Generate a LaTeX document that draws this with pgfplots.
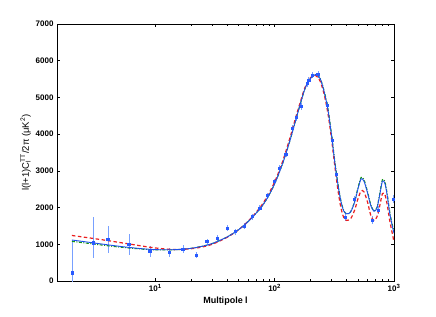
\documentclass[border=0pt]{standalone}
\usepackage{pgfplots}
\pgfplotsset{compat=1.18}
\usepackage{pgfplotstable}
\usepackage{fontspec}
\setmainfont{Liberation Sans}
\definecolor{cblue}{RGB}{30,80,235}
\definecolor{cpts}{RGB}{40,90,255}
\definecolor{cerr}{RGB}{120,160,255}
\definecolor{cgreen}{RGB}{20,150,20}
\definecolor{cred}{RGB}{235,30,30}

\pgfplotstableread{
l D ep em
2 226 900 300
3 1043 700 430
4 1136 350 380
6 1000 280 280
9 809 150 150
13 782 130 130
17 872 100 100
22 708 90 90
27 1071 80 80
33 1163 80 80
40 1436 80 80
47 1343 80 80
56 1499 80 80
65 1752 80 80
75 1981 80 80
87 2324 80 80
100 2706 80 80
110 3071 80 80
124 3452 80 80
140 4160 90 90
152 4460 90 90
167 4749 90 90
187 5387 90 90
193 5477 90 90
208 5613 90 90
230 5632 90 90
278 4796 90 90
303 3842 90 90
330 2915 90 90
388 1735 90 90
464 2234 90 90
660 1662 100 100
741 1935 100 100
990 2234 100 100
}\datapts

\pgfplotstableread{
l B G R
2 1117 1080 1240
3 1040 1010 1160
4 985 960 1100
5 945 925 1050
6 915 900 1010
8 875 865 945
10 855 850 900
13 850 848 865
16 860 860 860
20 890 890 880
25 950 950 930
30 1020 1020 1000
40 1200 1200 1190
50 1400 1400 1400
60 1620 1620 1630
70 1850 1850 1870
80 2080 2080 2120
90 2350 2350 2400
100 2650 2650 2700
110 2980 2980 3030
120 3320 3320 3380
135 3850 3850 3920
150 4380 4380 4450
165 4850 4850 4900
180 5250 5250 5280
200 5520 5520 5540
220 5620 5620 5600
240 5520 5530 5450
260 5150 5170 5080
280 4650 4680 4550
300 3950 3980 3850
320 3200 3230 3100
340 2600 2620 2450
360 2150 2170 1980
380 1900 1910 1720
400 1830 1830 1650
420 1840 1840 1660
440 1920 1930 1730
470 2170 2190 1950
500 2520 2550 2250
530 2780 2820 2450
560 2720 2760 2430
600 2400 2430 2150
640 2050 2070 1780
680 1900 1910 1650
720 1990 2000 1750
760 2350 2380 2050
800 2720 2760 2380
840 2650 2700 2350
880 2300 2340 2050
920 1850 1890 1650
960 1550 1580 1350
1000 1300 1350 1070
}\theory

\begin{document}
\begin{tikzpicture}
\begin{axis}[
  scale only axis,
  width=337pt, height=257pt,
  xmode=log,
  xmin=1.5, xmax=1000,
  ymin=0, ymax=7000,
  ytick={0,1000,2000,3000,4000,5000,6000,7000},
  xtick={10,100,1000},
  xticklabels={\textbf{10\textsuperscript{1}},\textbf{10\textsuperscript{2}},\textbf{10\textsuperscript{3}}},
  scaled y ticks=false,
  yticklabel style={/pgf/number format/assume math mode=true, font=\fontsize{8}{9}\selectfont\bfseries},
  xticklabel style={font=\fontsize{8}{9}\selectfont},
  /pgf/number format/1000 sep={},
  tick align=inside,
  major tick length=3.5pt,
  minor tick length=2pt,
  axis line style={line width=0.9pt},
  every tick/.style={black, line width=0.6pt},
  xtick pos=both, ytick pos=both,
  xlabel={\textbf{Multipole l}},
  ylabel={l(l+1)C\rlap{\textsubscript{l}}\textsuperscript{TT}/2π (μK\textsuperscript{2})},
  xlabel style={font=\fontsize{9}{10}\selectfont, yshift=2pt},
  ylabel style={font=\fontsize{9.5}{10}\selectfont, yshift=-2pt},
  clip=true,
]
\addplot[cerr, line width=0.6pt, draw=none, mark=square*, mark size=1.1pt, mark options={cpts, draw=cpts, fill=cpts},
  error bars/.cd, y dir=both, y explicit, error bar style={cerr, line width=0.6pt}, error mark=none]
  table[x=l, y=D, y error plus=ep, y error minus=em] {\datapts};
\addplot[cgreen, line width=1.1pt, dash pattern=on 3pt off 1.5pt on 1pt off 1.5pt, smooth, tension=0.5] table[x=l, y=G] {\theory};
\addplot[cred, line width=1.2pt, dash pattern=on 3.5pt off 2.5pt, smooth, tension=0.5] table[x=l, y=R] {\theory};
\addplot[cblue, line width=0.9pt, smooth, tension=0.5] table[x=l, y=B] {\theory};
\coordinate (bl) at (rel axis cs:0,0);
\end{axis}
\pgfresetboundingbox
\path (bl) ++(-57pt,-35pt) rectangle ++(436pt,316pt);
\end{tikzpicture}
\end{document}
